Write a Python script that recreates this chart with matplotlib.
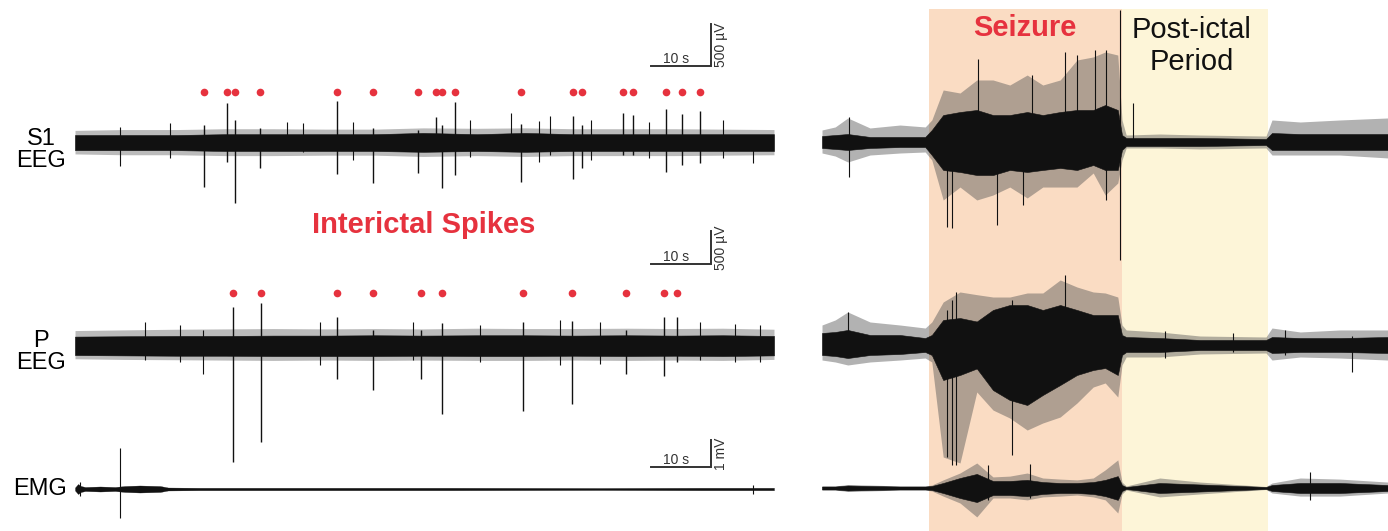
import numpy as np
import matplotlib
matplotlib.use("Agg")
import matplotlib.pyplot as plt

plt.rcParams['font.family'] = ['Liberation Sans', 'DejaVu Sans']

W, H = 1388, 531
PX_PER_S = 6.0          # 10 s scale bar is 60 px wide
RED = '#e6323e'

# ---------------- left panel: interictal recording ----------------
t_left = [0, 8, 17, 25, 33, 42, 50, 58, 67, 75, 83, 92, 100, 108, 116.5]

s1_core_hi = [95, 95, 95, 105, 105, 105, 105, 120, 105, 120, 105, 105, 105, 105, 105]
s1_core_lo = [-85, -85, -85, -95, -95, -95, -95, -105, -95, -105, -95, -95, -95, -95, -95]
s1_out_hi = [150, 160, 160, 170, 170, 165, 165, 180, 175, 180, 170, 170, 170, 165, 160]
s1_out_lo = [-130, -140, -140, -150, -150, -145, -145, -160, -150, -160, -150, -150, -150, -145, -140]

# marked interictal spikes (s, peak µV, trough µV)
s1_spk_t = [21.5, 25.3, 26.7, 30.8, 43.6, 49.6, 57.2, 60.2, 61.2, 63.4, 74.3, 83.0, 84.5, 91.4, 93.0, 98.5, 101.2, 104.1]
s1_spk_hi = [214, 476, 274, 179, 500, 179, 155, 309, 214, 488, 226, 321, 214, 357, 333, 405, 345, 381]
s1_spk_lo = [-524, -226, -714, -298, -369, -476, -357, -83, -536, -381, -464, -428, -298, -143, -143, -345, -262, -238]
# other large deflections
s1_hair_t = [7.5, 15.8, 35.3, 38.0, 46.3, 65.8, 72.7, 77.3, 79.2, 86.0, 95.7, 108.0, 113.0]
s1_hair_hi = [194, 238, 250, 238, 250, 274, 357, 262, 321, 274, 250, 274, 95]
s1_hair_lo = [-274, -179, -83, -107, -202, -167, -83, -226, -143, -202, -179, -179, -238]

p_core_hi = [140, 145, 150, 150, 155, 155, 160, 155, 160, 160, 155, 160, 155, 160, 150]
p_core_lo = [-135, -140, -145, -145, -150, -150, -150, -145, -150, -150, -145, -150, -145, -150, -140]
p_out_hi = [230, 240, 250, 255, 260, 255, 260, 255, 265, 260, 260, 265, 260, 265, 250]
p_out_lo = [-190, -200, -205, -210, -215, -210, -215, -210, -215, -215, -210, -215, -210, -215, -200]

p_spk_t = [26.4, 31.0, 43.6, 49.7, 57.6, 61.2, 74.7, 82.9, 91.8, 98.2, 100.3]
p_spk_hi = [581, 641, 432, 238, 238, 343, 358, 373, 238, 432, 432]
p_spk_lo = [-1728, -1430, -492, -656, -492, -1013, -969, -864, -417, -447, -238]
p_hair_t = [11.7, 17.5, 21.3, 40.8, 56.3, 67.5, 80.8, 87.5, 104.2, 110.0, 114.2]
p_hair_hi = [358, 313, 238, 358, 358, 313, 387, 358, 358, 328, 313]
p_hair_lo = [-209, -238, -417, -283, -209, -238, -283, -268, -209, -238, -238]

t_emg_left = [0, 0.5, 1.0, 1.7, 4.2, 6.7, 8.3, 10.8, 14.2, 15.5, 20.8, 37.5, 62.5, 87.5, 104.2, 116.5]
emg_left_half = [0.055, 0.185, 0.11, 0.074, 0.093, 0.074, 0.11, 0.13, 0.11, 0.055, 0.045, 0.045, 0.045, 0.037, 0.045, 0.045]
emg_spk_t = [0.8, 7.5, 113.0]
emg_spk_hi = [0.26, 1.52, 0.15]
emg_spk_lo = [-0.26, -1.07, -0.18]

# ---------------- right panel: seizure recording ----------------
t_right = [0, 2.2, 4.3, 8, 13, 17.2, 18.3, 20.2, 23, 25.8, 28.5, 31.3, 34.2, 36.8,
           39.7, 42.5, 45.2, 47.2, 49.3, 50, 50.7, 56.3, 63, 74, 75, 79.7, 86.3, 94.3]
seizure_span = (17.8, 50.0)
postictal_span = (50.0, 74.3)

rs1_out_hi = [143, 179, 286, 167, 202, 179, 262, 619, 583, 738, 738, 678, 797, 678,
              738, 976, 1012, 1071, 1035, 262, 83, 95, 83, 71, 262, 238, 262, 286]
rs1_out_lo = [-131, -167, -238, -155, -131, -119, -214, -690, -536, -690, -631, -536, -666, -536,
              -536, -536, -369, -631, -488, -214, -71, -71, -83, -71, -155, -155, -155, -190]
rs1_core_hi = [71, 83, 95, 60, 60, 60, 143, 321, 357, 381, 321, 321, 357, 321,
               357, 381, 381, 440, 381, 83, 48, 48, 48, 36, 107, 95, 95, 95]
rs1_core_lo = [-71, -83, -95, -71, -60, -60, -155, -333, -357, -393, -393, -333, -357, -333,
               -309, -333, -274, -333, -333, -95, -48, -48, -48, -36, -95, -95, -95, -95]
rs1_spk_t = [4.5, 20.8, 21.6, 26.0, 29.2, 33.5, 35.0, 40.5, 42.5, 45.5, 47.3, 49.7, 51.8]
rs1_spk_hi = [298, 143, 83, 988, 262, 143, 797, 1071, 1035, 1095, 1095, 1571, 464]
rs1_spk_lo = [-417, -1012, -1023, -214, -988, -750, -95, -214, -214, -214, -690, -1404, -36]

rp_out_hi = [298, 373, 492, 343, 298, 253, 343, 641, 790, 750, 715, 715, 775, 775,
             969, 864, 790, 775, 715, 298, 224, 194, 134, 119, 253, 194, 224, 224]
rp_out_lo = [-224, -253, -298, -253, -224, -194, -253, -1669, -1758, -700, -969, -1088, -1267, -1162,
             -1073, -864, -626, -566, -775, -298, -179, -179, -134, -119, -224, -179, -194, -224]
rp_core_hi = [179, 194, 224, 149, 149, 104, 149, 373, 402, 350, 522, 596, 596, 522,
              596, 522, 447, 447, 447, 149, 119, 104, 75, 75, 119, 104, 104, 119]
rp_core_lo = [-149, -164, -194, -149, -134, -104, -149, -522, -447, -350, -671, -820, -894, -745,
              -596, -447, -373, -343, -447, -149, -104, -104, -75, -75, -119, -104, -104, -119]
rp_spk_t = [4.3, 20.8, 21.6, 22.4, 31.6, 40.5, 57.2, 68.5, 77.2, 88.3]
rp_spk_hi = [492, 522, 671, 790, 671, 1043, 209, 179, 224, 134]
rp_spk_lo = [-75, -1669, -1788, -1788, -1639, -522, -194, -104, -149, -402]

remg_out_hi = [0.074, 0.074, 0.13, 0.11, 0.074, 0.074, 0.11, 0.30, 0.555, 0.925, 0.41, 0.44, 0.555, 0.37,
               0.33, 0.30, 0.37, 0.67, 1.04, 0.22, 0.074, 0.37, 0.22, 0.055, 0.185, 0.37, 0.33, 0.22]
remg_out_lo = [-0.074, -0.074, -0.13, -0.11, -0.074, -0.074, -0.11, -0.30, -0.555, -1.07, -0.37, -0.37, -0.44, -0.33,
               -0.30, -0.26, -0.33, -0.44, -0.925, -0.22, -0.074, -0.33, -0.22, -0.055, -0.185, -0.30, -0.30, -0.185]
remg_core = [0.055, 0.055, 0.093, 0.074, 0.055, 0.055, 0.074, 0.185, 0.37, 0.52, 0.26, 0.26, 0.30, 0.22,
             0.185, 0.185, 0.22, 0.30, 0.44, 0.11, 0.037, 0.185, 0.13, 0.037, 0.11, 0.185, 0.185, 0.11]
remg_spk_t = [27.7, 34.7, 81.3]
remg_spk_hi = [0.85, 0.89, 0.59]
remg_spk_lo = [-0.44, -0.37, -0.44]

# scale bars
bar_t = 10          # s
bar_eeg = 500       # µV
bar_emg = 1.0       # mV


def make_axes(x0_px, yc_px, per_px, z):
    # full-figure axes, time 0 at x0_px, amplitude 0 at yc_px
    ax = fig.add_axes([0, 0, 1, 1], zorder=z)
    ax.set_xlim(-x0_px / PX_PER_S, (W - x0_px) / PX_PER_S)
    ax.set_ylim(-(H - yc_px) * per_px, yc_px * per_px)
    ax.axis('off')
    ax.patch.set_alpha(0)
    return ax


def draw_trace(ax, t, core_hi, core_lo, out_hi=None, out_lo=None, out_alpha=0.4, edge=0.4):
    if out_hi is not None:
        ax.fill_between(t, out_lo, out_hi, color='#555555', alpha=out_alpha, lw=0)
    ax.fill_between(t, core_lo, core_hi, color='#111111', lw=edge, edgecolor='#111111')


def draw_spikes(ax, t, hi, lo, lw=1.0):
    ax.vlines(t, lo, hi, color='#111111', lw=lw)


def scale_bar(ax, t_end, y0, height, label_v):
    ax.plot([t_end - bar_t, t_end, t_end], [y0, y0, y0 + height], color='#333333', lw=1.4,
            solid_joinstyle='miter')
    ax.text(t_end - bar_t / 2 - 0.8, y0, '10 s', ha='center', va='bottom', fontsize=10, color='#333333')
    ax.text(t_end + 0.5, y0 + height / 2, label_v, rotation=90, ha='left', va='center',
            fontsize=10, color='#333333')


fig = plt.figure(figsize=(W / 100, H / 100), dpi=100)

# right panel
ax_rs1 = make_axes(822, 142, 11.9, 1)
ax_rs1.axvspan(*seizure_span, ymin=0, ymax=1 - 9 / H, color='#fadcc3', lw=0, zorder=0)
ax_rs1.axvspan(*postictal_span, ymin=0, ymax=1 - 9 / H, color='#fdf5d8', lw=0, zorder=0)
draw_trace(ax_rs1, t_right, rs1_core_hi, rs1_core_lo, rs1_out_hi, rs1_out_lo, 0.45)
draw_spikes(ax_rs1, rs1_spk_t, rs1_spk_hi, rs1_spk_lo, lw=0.8)

ax_rp = make_axes(822, 345, 14.9, 2)
draw_trace(ax_rp, t_right, rp_core_hi, rp_core_lo, rp_out_hi, rp_out_lo, 0.45)
draw_spikes(ax_rp, rp_spk_t, rp_spk_hi, rp_spk_lo, lw=0.8)

ax_remg = make_axes(822, 488, 0.037, 3)
draw_trace(ax_remg, t_right, remg_core, [-v for v in remg_core], remg_out_hi, remg_out_lo, 0.45)
draw_spikes(ax_remg, remg_spk_t, remg_spk_hi, remg_spk_lo, lw=0.8)

# left panel
ax_s1 = make_axes(75, 143, 11.9, 4)
draw_trace(ax_s1, t_left, s1_core_hi, s1_core_lo, s1_out_hi, s1_out_lo)
draw_spikes(ax_s1, s1_hair_t, s1_hair_hi, s1_hair_lo, lw=0.8)
draw_spikes(ax_s1, s1_spk_t, s1_spk_hi, s1_spk_lo)
ax_s1.plot(s1_spk_t, np.full(len(s1_spk_t), 607), 'o', color=RED, ms=5.5, mew=0)
scale_bar(ax_s1, 106, 916, bar_eeg, '500 µV')

ax_p = make_axes(75, 346, 14.9, 5)
draw_trace(ax_p, t_left, p_core_hi, p_core_lo, p_out_hi, p_out_lo)
draw_spikes(ax_p, p_hair_t, p_hair_hi, p_hair_lo, lw=0.8)
draw_spikes(ax_p, p_spk_t, p_spk_hi, p_spk_lo)
ax_p.plot(p_spk_t, np.full(len(p_spk_t), 790), 'o', color=RED, ms=5.5, mew=0)
scale_bar(ax_p, 106, 1217, bar_eeg, '500 µV')

ax_emg = make_axes(75, 489, 0.037, 6)
draw_trace(ax_emg, t_emg_left, emg_left_half, [-v for v in emg_left_half], edge=0.2)
draw_spikes(ax_emg, emg_spk_t, emg_spk_hi, emg_spk_lo, lw=0.8)
scale_bar(ax_emg, 106, 0.80, bar_emg, '1 mV')

# labels
def ftext(x, y, s, **kw):
    fig.text(x / W, 1 - y / H, s, **kw)

ftext(41, 150, 'S1\nEEG', ha='center', va='center', fontsize=17, linespacing=1.05)
ftext(41, 352, 'P\nEEG', ha='center', va='center', fontsize=17, linespacing=1.05)
ftext(40, 489, 'EMG', ha='center', va='center', fontsize=17)
ftext(424, 225, 'Interictal Spikes', ha='center', va='center', fontsize=21,
      fontweight='bold', color=RED)
ftext(1025, 28, 'Seizure', ha='center', va='center', fontsize=21, fontweight='bold', color=RED)
ftext(1192, 46, 'Post-ictal\nPeriod', ha='center', va='center', fontsize=21, linespacing=1.17,
      color='#111111')

fig.savefig('out.png', dpi=100)
